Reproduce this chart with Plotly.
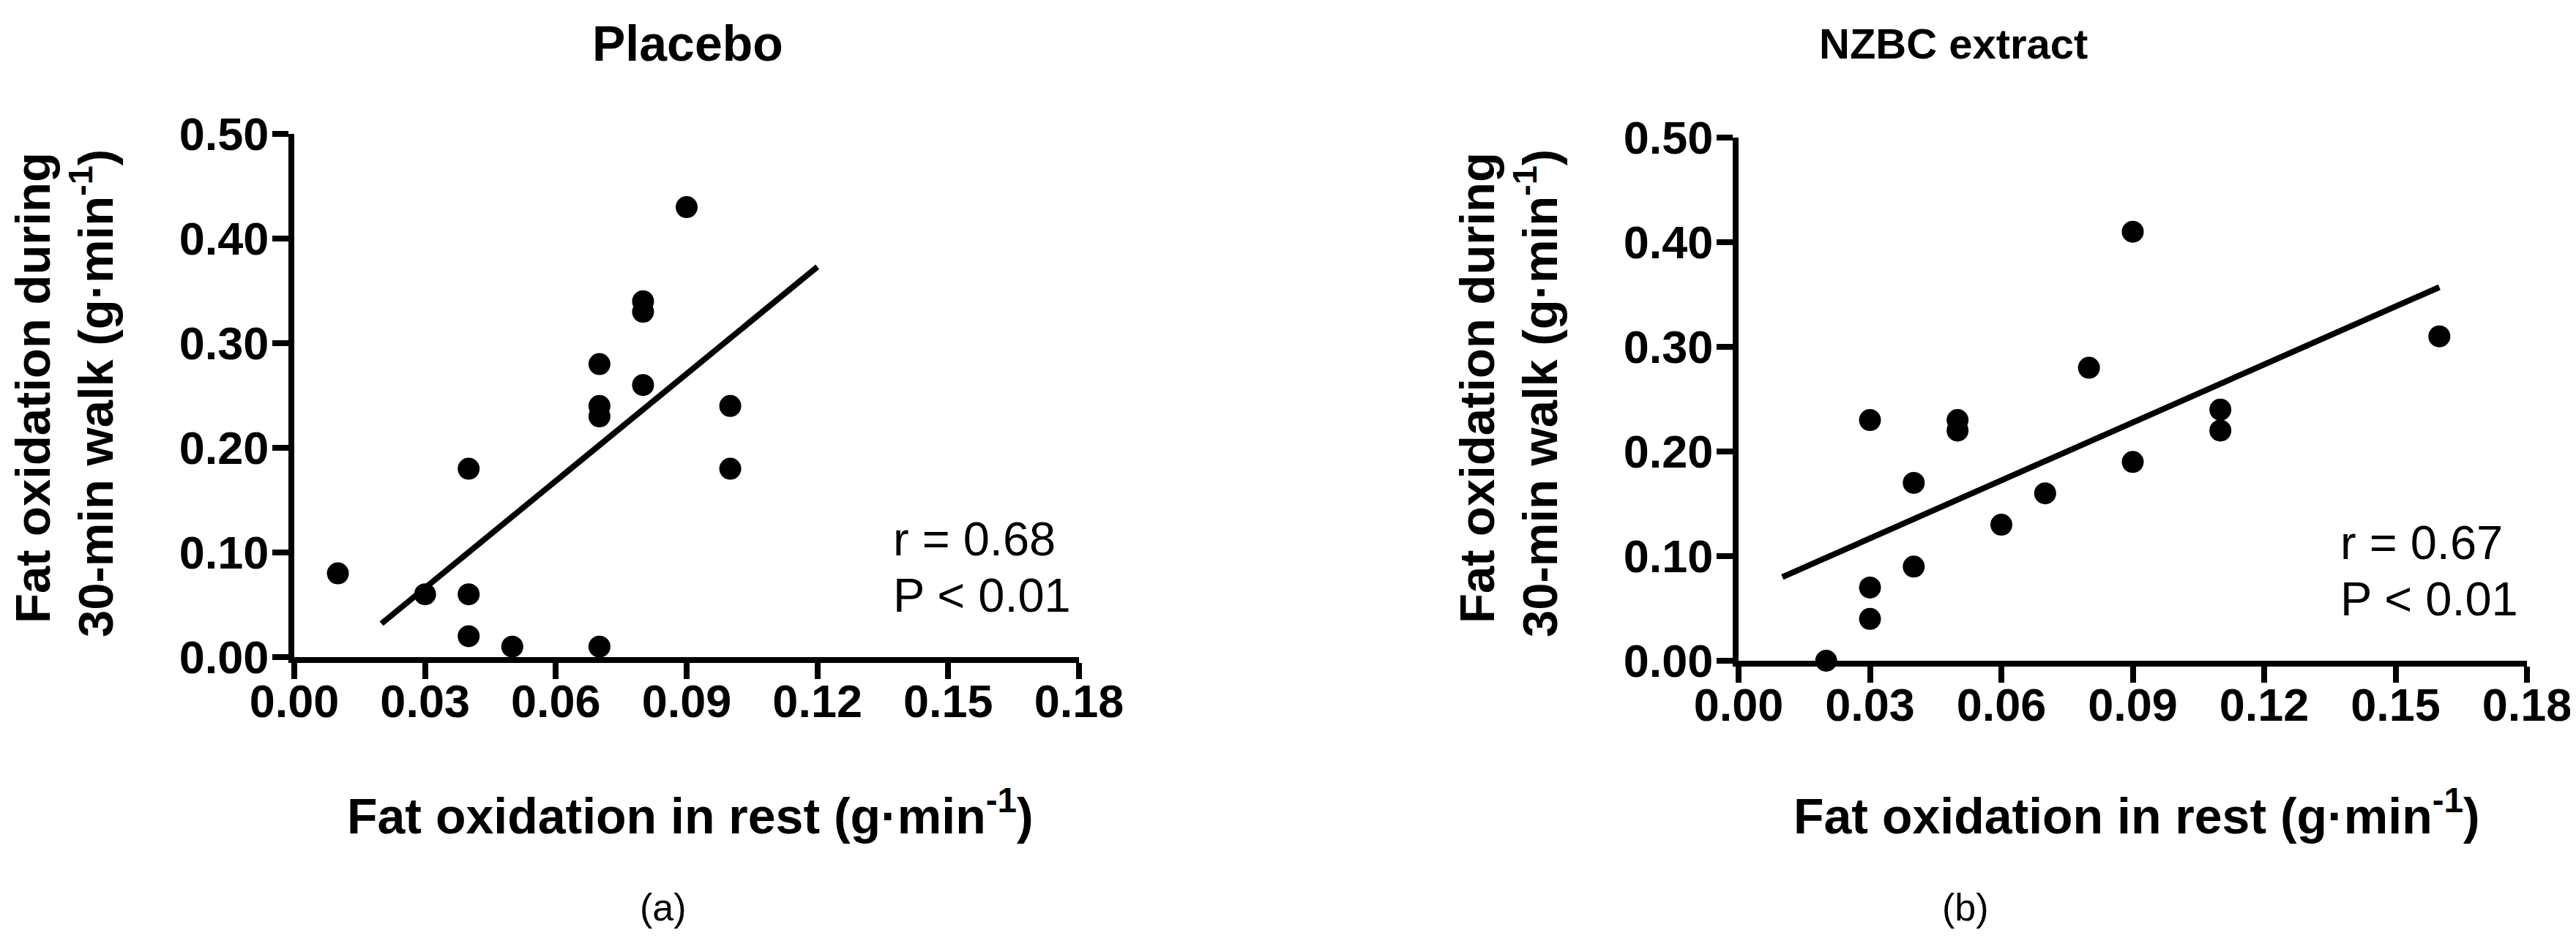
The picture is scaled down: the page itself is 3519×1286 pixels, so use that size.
import plotly.graph_objects as go

# ---------------------------------------------------------------
# Data (g/min)
# ---------------------------------------------------------------
placebo_rest = [0.01, 0.03, 0.04, 0.04, 0.04, 0.05, 0.07, 0.07,
                0.07, 0.07, 0.08, 0.08, 0.08, 0.09, 0.10, 0.10]
placebo_walk = [0.08, 0.06, 0.06, 0.02, 0.18, 0.01, 0.01, 0.28,
                0.24, 0.23, 0.34, 0.33, 0.26, 0.43, 0.24, 0.18]
placebo_fit_x = [0.02, 0.12]
placebo_fit_y = [0.032, 0.373]

nzbc_rest = [0.02, 0.03, 0.03, 0.03, 0.04, 0.04, 0.05, 0.05,
             0.06, 0.07, 0.08, 0.09, 0.09, 0.11, 0.11, 0.16]
nzbc_walk = [0.00, 0.04, 0.07, 0.23, 0.09, 0.17, 0.23, 0.22,
             0.13, 0.16, 0.28, 0.19, 0.41, 0.24, 0.22, 0.31]
nzbc_fit_x = [0.01, 0.16]
nzbc_fit_y = [0.080, 0.357]

panel_titles = ["Placebo", "NZBC extract"]
panel_r = ["r = 0.68", "r = 0.67"]
panel_p = ["P < 0.01", "P < 0.01"]
panel_tags = ["(a)", "(b)"]

x_ticks = [0.00, 0.03, 0.06, 0.09, 0.12, 0.15, 0.18]
y_ticks = [0.00, 0.10, 0.20, 0.30, 0.40, 0.50]

FONT = "Liberation Sans, Arial, sans-serif"
W, H = 3519, 1286

fig = go.Figure()

panels = [
    (placebo_rest, placebo_walk, placebo_fit_x, placebo_fit_y, "x", "y"),
    (nzbc_rest, nzbc_walk, nzbc_fit_x, nzbc_fit_y, "x2", "y2"),
]
for xs, ys, fx, fy, xa, ya in panels:
    fig.add_trace(go.Scatter(
        x=fx, y=fy, mode="lines", xaxis=xa, yaxis=ya,
        line=dict(color="black", width=8), showlegend=False,
    ))
    fig.add_trace(go.Scatter(
        x=xs, y=ys, mode="markers", xaxis=xa, yaxis=ya,
        marker=dict(color="black", size=30), cliponaxis=False,
        showlegend=False,
    ))

axis_style = dict(
    showline=True, linecolor="black", linewidth=8,
    ticks="outside", ticklen=22, tickwidth=8, tickcolor="black",
    showgrid=False, zeroline=False, tickformat=".2f", automargin=False,
    tickfont=dict(family=FONT, size=63, color="black", weight="bold"),
)

# pixel boxes of the two plot areas
boxes = [(394, 1466, 175, 890), (2367, 3444, 180, 895)]
for i, (l, r, t, b) in enumerate(boxes):
    sfx = "" if i == 0 else str(i + 1)
    fig.layout["xaxis" + sfx] = dict(
        axis_style, domain=[l / W, r / W], range=[0, 0.18],
        tickvals=x_ticks, anchor="y" + sfx, ticklabelstandoff=-24,
    )
    fig.layout["yaxis" + sfx] = dict(
        axis_style, domain=[1 - b / H, 1 - t / H], range=[0, 0.5],
        tickvals=y_ticks, anchor="x" + sfx, ticklabelstandoff=-8,
    )


def label(text, px, py, size, bold=True, angle=0):
    return dict(
        text=text, x=px / W, y=1 - py / H, xref="paper", yref="paper",
        xanchor="center", yanchor="middle", textangle=angle, showarrow=False,
        font=dict(family=FONT, size=size, color="black",
                  weight="bold" if bold else "normal"),
    )


title_x = [931, 2660]
title_size = [68, 58]
tag_x = [898, 2677]
annotations = []
for i, (l, r, t, b) in enumerate(boxes):
    cx = (l + r) / 2
    sfx = "" if i == 0 else str(i + 1)
    annotations.append(label(panel_titles[i], title_x[i], 51, title_size[i]))
    # y-axis title, two lines
    annotations.append(label("Fat oxidation during", l - 358, 522, 67, angle=-90))
    annotations.append(label("30-min walk (g·min<sup>-1</sup>)", l - 276, 530, 67, angle=-90))
    # x-axis title
    annotations.append(label("Fat oxidation in rest (g·min<sup>-1</sup>)", cx + 5, 1102, 68))
    # correlation statistics
    for txt, yv in ((panel_r[i], 0.113), (panel_p[i], 0.059)):
        annotations.append(dict(
            text=txt, x=0.137, y=yv, xref="x" + sfx, yref="y" + sfx,
            xanchor="left", yanchor="middle", showarrow=False,
            font=dict(family=FONT, size=65, color="black"),
        ))
    # panel tag
    annotations.append(label(panel_tags[i], tag_x[i], 1232, 52, bold=False))

fig.update_layout(
    width=W, height=H,
    margin=dict(l=0, r=0, t=0, b=0),
    plot_bgcolor="white", paper_bgcolor="white",
    annotations=annotations,
    showlegend=False,
)

fig.write_html("out.html")
